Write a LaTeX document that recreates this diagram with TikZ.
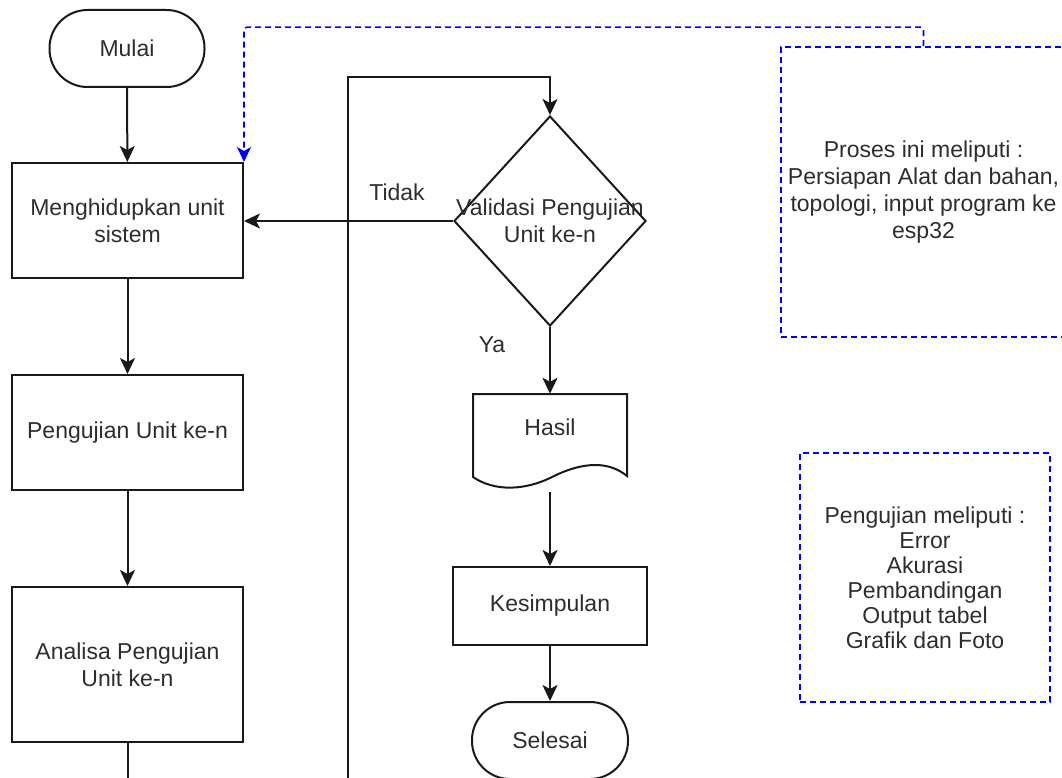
\documentclass[tikz,border=0pt]{standalone}
\usepackage{fontspec}
\setmainfont{Liberation Sans}
\usetikzlibrary{shapes.geometric,arrows.meta}
\definecolor{ink}{RGB}{25,25,25}
\definecolor{txt}{RGB}{45,45,45}
\definecolor{noteblue}{RGB}{0,0,255}
\begin{document}
\begin{tikzpicture}[x=1pt,y=-1pt,
  every node/.style={font=\fontsize{23}{27}\selectfont, text=txt, inner sep=0pt, align=center},
  flow/.style={draw=ink, line width=2pt},
  procbox/.style={flow, rectangle, minimum width=231pt},
  term/.style={flow, rectangle, rounded corners=38pt, minimum width=155pt, minimum height=77pt},
  decision/.style={flow, diamond, minimum width=192pt, minimum height=210pt},
  notebox/.style={draw=noteblue, line width=1.6pt, dash pattern=on 6pt off 4pt, rectangle},
  arr/.style={ink, line width=2pt, -{Stealth[length=16pt,width=15pt,inset=4pt]}},
  notearr/.style={noteblue, line width=1.6pt, dash pattern=on 6pt off 4pt, rounded corners=3pt, -{Stealth[length=15pt,width=14pt,inset=4pt]}},
]
\useasboundingbox (0,0) rectangle (1062,778);
\clip (0,0) rectangle (1062,778);

% left column
\node[term] (mulai) at (127,48.5) {Mulai};
\node[procbox, minimum height=115pt] (hidup) at (127.5,220.5) {Menghidupkan unit\\sistem};
\node[procbox, minimum height=115pt] (uji) at (127.5,432.5) {Pengujian Unit ke-n};
\node[procbox, minimum height=155pt] (analisa) at (127.5,664.5) {Analisa Pengujian\\Unit ke-n};

% right column
\node[decision] (valid) at (550,221) {};
\node (validtext) at (valid.center) {Validasi Pengujian\\Unit ke-n};

\node[minimum width=154pt, minimum height=83pt] (hasil) at (550,435.5) {};
\draw[flow] (473,477) -- (473,394) -- (627,394) -- (627,476)
  .. controls (610,462) and (585,460) .. (550,478)
  .. controls (525,490) and (495,492) .. cycle;
\node (hasiltext) at (550,427) {Hasil};

\node[procbox, minimum width=194pt, minimum height=78pt] (kesim) at (550,606) {Kesimpulan};
\node[term, minimum width=156pt] (selesai) at (550,740.5) {Selesai};

% notes
\node[notebox, minimum width=285pt, minimum height=290pt] (note1) at (923.5,192)
  {Proses ini meliputi :\\Persiapan Alat dan bahan,\\topologi, input program ke\\esp32};
\node[notebox, minimum width=250pt, minimum height=249pt, font=\fontsize{23}{25}\selectfont] (note2) at (925,577.5)
  {Pengujian meliputi :\\Error\\Akurasi\\Pembandingan\\ Output tabel\\Grafik dan Foto};

% branch labels
\node (tidak) at (397,192) {Tidak};
\node (ya) at (492,345) {Ya};

% connectors
\draw[arr] (mulai) -- (hidup);
\draw[arr] (hidup) -- (uji);
\draw[arr] (uji) -- (analisa);
\draw[arr] (valid.west) -- (valid.west -| hidup.east);
\draw[arr] (valid.south) -- (hasil.north);
\draw[arr] ([yshift=-15pt]hasil.south) -- (kesim.north);
\draw[arr] (kesim) -- (selesai);
\draw[arr] (analisa.south) -- ++(0,37) -| (348,77) -| (valid.north);
\draw[notearr] (note1.north) -- ++(0,-19) -| (hidup.north east);
\end{tikzpicture}
\end{document}
